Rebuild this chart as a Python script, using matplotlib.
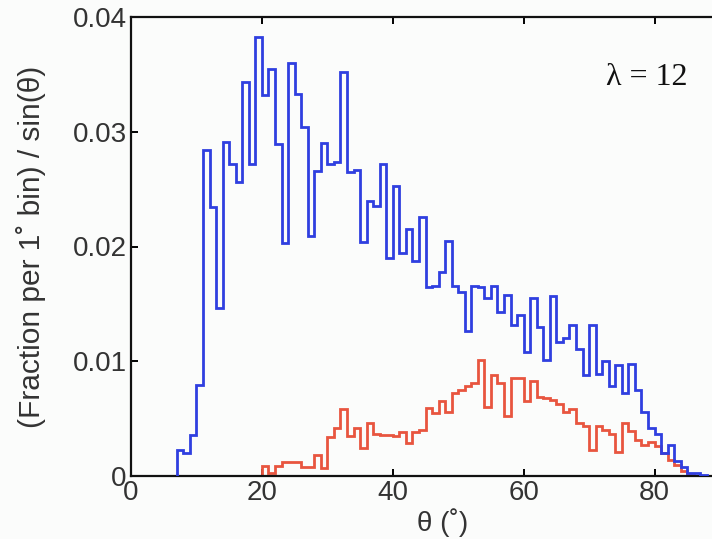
import numpy as np
import matplotlib
matplotlib.use("Agg")
import matplotlib.pyplot as plt

# 1-degree bins in polar angle theta
blue_start = 7
blue_vals = [
    0.0023, 0.0020, 0.0036, 0.0079, 0.0284, 0.0234, 0.0146, 0.0291, 0.0272, 0.0256,  # 7-16
    0.0343, 0.0272, 0.0383, 0.0332, 0.0355, 0.0289, 0.0203, 0.0360, 0.0333, 0.0304,  # 17-26
    0.0209, 0.0266, 0.0290, 0.0272, 0.0274, 0.0352, 0.0265, 0.0267, 0.0204, 0.0240,  # 27-36
    0.0235, 0.0272, 0.0190, 0.0253, 0.0194, 0.0215, 0.0187, 0.0226, 0.0165, 0.0166,  # 37-46
    0.0178, 0.0205, 0.0166, 0.0160, 0.0126, 0.0166, 0.0165, 0.0155, 0.0166, 0.0143,  # 47-56
    0.0158, 0.0132, 0.0140, 0.0108, 0.0155, 0.0130, 0.0101, 0.0157, 0.0117, 0.0120,  # 57-66
    0.0132, 0.0111, 0.0088, 0.0132, 0.0089, 0.0100, 0.0078, 0.0097, 0.0072, 0.0098,  # 67-76
    0.0075, 0.0056, 0.0042, 0.0037, 0.0020, 0.0027, 0.0013, 0.0008, 0.0003, 0.0003,  # 77-86
    0.0001,                                                                          # 87
]

red_start = 20
red_vals = [
    0.0009, 0.0003, 0.0009, 0.0012, 0.0012, 0.0012, 0.0008, 0.0008, 0.0018, 0.0007,  # 20-29
    0.0034, 0.0042, 0.0058, 0.0035, 0.0042, 0.0024, 0.0046, 0.0037, 0.0036, 0.0036,  # 30-39
    0.0035, 0.0038, 0.0029, 0.0038, 0.0040, 0.0059, 0.0055, 0.0065, 0.0056, 0.0072,  # 40-49
    0.0075, 0.0078, 0.0081, 0.0101, 0.0060, 0.0088, 0.0081, 0.0052, 0.0085, 0.0085,  # 50-59
    0.0065, 0.0083, 0.0069, 0.0068, 0.0066, 0.0063, 0.0056, 0.0058, 0.0046, 0.0044,  # 60-69
    0.0023, 0.0044, 0.0040, 0.0037, 0.0021, 0.0046, 0.0039, 0.0031, 0.0027, 0.0030,  # 70-79
    0.0026, 0.0020, 0.0014, 0.0010, 0.0004, 0.0002,                                  # 80-85
]

x_ticks = [0, 20, 40, 60, 80]
y_ticks = [0, 0.01, 0.02, 0.03, 0.04]
y_tick_labels = ["0", "0.01", "0.02", "0.03", "0.04"]

W, H = 712, 539
fig = plt.figure(figsize=(W / 100, H / 100), dpi=100)
fig.patch.set_facecolor("#fbfcfb")

left_px, right_px, top_px, bottom_px = 131, 720, 17, 476
ax = fig.add_axes([left_px / W, 1 - bottom_px / H,
                   (right_px - left_px) / W, (bottom_px - top_px) / H])
ax.set_facecolor("#fbfcfb")

blue_edges = np.arange(blue_start, blue_start + len(blue_vals) + 1)
red_edges = np.arange(red_start, red_start + len(red_vals) + 1)

ax.stairs(red_vals, red_edges, baseline=0, color="#e8553f", lw=2.0, zorder=2)
ax.stairs(blue_vals, blue_edges, baseline=0, color="#2f3fe0", lw=2.0, zorder=3)

ax.set_xlim(0, 90)
ax.set_ylim(0, 0.04)
ax.set_xticks(x_ticks)
ax.set_yticks(y_ticks)
ax.set_yticklabels(y_tick_labels)

for s in ax.spines.values():
    s.set_linewidth(1.6)
    s.set_color("#111111")

ax.tick_params(direction="in", length=5, width=1.4, top=True, right=False,
               labelsize=20, labelcolor="#333333", pad=3)
for lbl in ax.get_xticklabels() + ax.get_yticklabels():
    lbl.set_family("Liberation Sans")

ax.set_xlabel("θ (˚)", fontsize=20, color="#333333", family="Liberation Sans")
ax.xaxis.set_label_coords((443 - left_px) / (right_px - left_px), -0.07)
ax.set_ylabel("(Fraction per 1˚ bin) / sin(θ)", fontsize=21.5, color="#333333",
              family="Liberation Sans")
ax.yaxis.set_label_coords((46 - left_px) / (right_px - left_px), 0.5)

# parameter annotation in the upper right
ax.text(78.8, 0.0347, "λ = 12", fontsize=23,
        family="Liberation Serif", ha="center", va="center", color="#111111")

fig.savefig("out.png", dpi=100, facecolor=fig.get_facecolor())
